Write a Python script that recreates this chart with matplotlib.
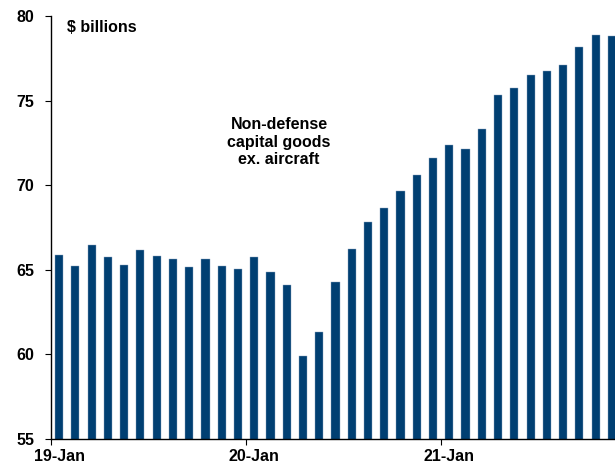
import matplotlib.pyplot as plt
from matplotlib.ticker import FixedLocator

plt.rcParams['font.family'] = ['Liberation Sans', 'DejaVu Sans']
plt.rcParams['font.weight'] = 'bold'

# Monthly orders, Jan 2019 - Nov 2021 ($ billions)
months = list(range(35))
orders = [65.86, 65.22, 66.47, 65.76, 65.28, 66.17, 65.83, 65.62, 65.18, 65.66,
          65.21, 65.07, 65.76, 64.89, 64.10, 59.89, 61.30, 64.30, 66.21, 67.81,
          68.63, 69.64, 70.58, 71.63, 72.38, 72.16, 73.32, 75.31, 75.73, 76.53,
          76.73, 77.08, 78.19, 78.88, 78.82]
year_labels = ['19-Jan', '20-Jan', '21-Jan']
year_starts = [0, 12, 24]

bar_color = '#003f72'
fs = 11.5

fig = plt.figure(figsize=(6.15, 4.68), dpi=100)
ax = fig.add_axes([51 / 615, 29 / 468, 569 / 615, 423 / 468])

ax.bar(months, orders, width=0.5, color=bar_color, edgecolor='#8aa3bd', linewidth=0.3)

ax.set_ylim(55, 80)
ax.set_xlim(-0.5, len(months) - 0.5)
ax.set_yticks([55, 60, 65, 70, 75, 80])

# year labels under January bars, tick marks on the category boundaries
ax.set_xticks(year_starts)
ax.set_xticklabels(year_labels)
ax.tick_params(axis='x', which='major', length=0, pad=7, labelsize=fs)
ax.xaxis.set_minor_locator(FixedLocator([s - 0.5 for s in year_starts]))
ax.tick_params(axis='x', which='minor', length=4, width=0.8, direction='out')
ax.tick_params(axis='y', length=4, width=0.8, direction='out', pad=8, labelsize=fs)

for side in ['top', 'right']:
    ax.spines[side].set_visible(False)
for side in ['left', 'bottom']:
    ax.spines[side].set_linewidth(1.0)

fig.text(67 / 615, 1 - 27 / 468, '$ billions', fontsize=fs, fontweight='bold',
         va='center', ha='left')
fig.text(279 / 615, 1 - 142 / 468, 'Non-defense\ncapital goods\nex. aircraft',
         ha='center', va='center', fontsize=fs, fontweight='bold', linespacing=1.2)

fig.savefig('out.png', dpi=100)
